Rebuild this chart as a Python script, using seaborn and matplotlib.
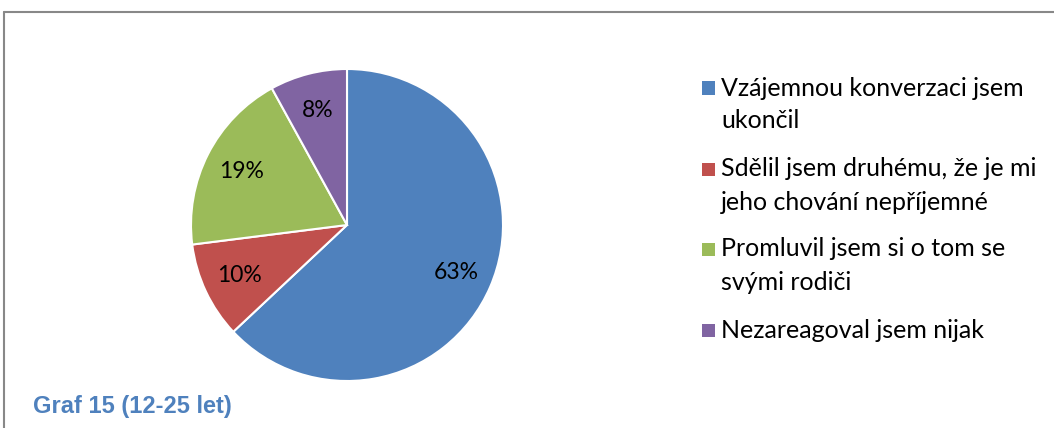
import matplotlib
matplotlib.use("Agg")
import matplotlib.pyplot as plt
import matplotlib.patches as mpatches
from matplotlib.lines import Line2D
import seaborn as sns

# data
labels = ["Vzájemnou konverzaci jsem\nukončil",
          "Sdělil jsem druhému, že je mi\njeho chování nepříjemné",
          "Promluvil jsem si o tom se\nsvými rodiči",
          "Nezareagoval jsem nijak"]
shares = [63, 10, 19, 8]
colors = ["#4F81BD", "#C0504D", "#9BBB59", "#8064A2"]
caption = "Graf 15 (12-25 let)"

sns.set_theme(style="white")
plt.rcParams['font.family'] = ['Lato', 'DejaVu Sans']

W, H = 1054, 428
fig = plt.figure(figsize=(W / 100, H / 100), dpi=100)
fig.patch.set_facecolor("white")

cx, cy, r = 347, 225, 156
ax = fig.add_axes([(cx - r) / W, (H - cy - r) / H, 2 * r / W, 2 * r / H])
wedges, texts, autotexts = ax.pie(
    shares, colors=colors, startangle=90, counterclock=False,
    autopct="%d%%", pctdistance=0.76,
    wedgeprops=dict(edgecolor="white", linewidth=1.5),
    textprops=dict(fontsize=16.5, color="black"))
ax.set_xlim(-1, 1)
ax.set_ylim(-1, 1)
ax.set_aspect("equal")

# legend, first line of each entry aligned with its square
item_y = [88, 169, 249, 330]
line_step = 33
sq = 13
for lab, col, y in zip(labels, colors, item_y):
    fig.add_artist(mpatches.Rectangle(((708 - sq / 2) / W, 1 - (y + sq / 2) / H),
                                      sq / W, sq / H, facecolor=col, edgecolor="none",
                                      transform=fig.transFigure))
    for i, line in enumerate(lab.split("\n")):
        fig.text(721 / W, 1 - (y + i * line_step) / H, line, fontsize=18,
                 color="black", va="center", ha="left")

fig.text(33 / W, 1 - 406 / H, caption, fontsize=17, fontweight="bold",
         color="#4F81BD", family="Liberation Sans", va="center", ha="left")

# border of the chart area (top and left edges visible)
fig.add_artist(Line2D([3.5 / W, 1], [1 - 11.5 / H, 1 - 11.5 / H], color="#888888", lw=1.5))
fig.add_artist(Line2D([3.5 / W, 3.5 / W], [0, 1 - 11.5 / H], color="#888888", lw=1.5))

fig.savefig("out.png", dpi=100, facecolor="white")
